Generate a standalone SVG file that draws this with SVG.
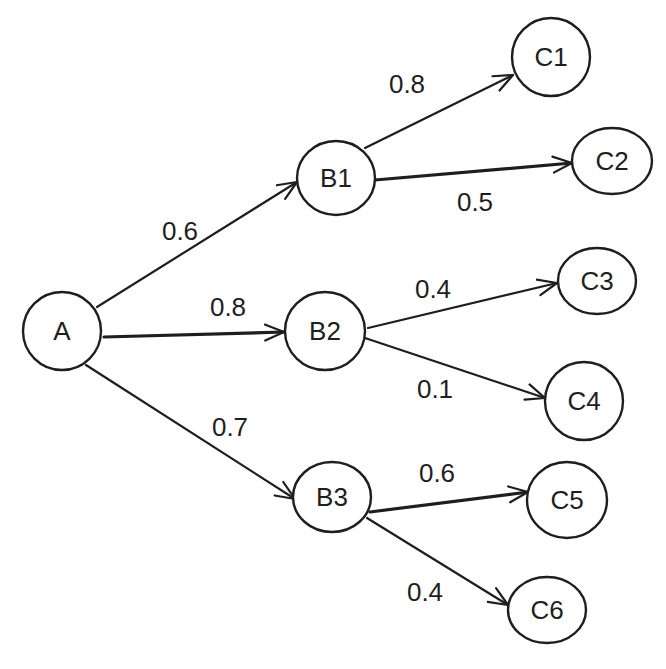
<svg xmlns="http://www.w3.org/2000/svg" width="666" height="669" viewBox="0 0 666 669">
<style>
.node ellipse{fill:#fff;stroke:#1e1e1e;stroke-width:2.4}
.node text{font-family:"Liberation Sans","DejaVu Sans",sans-serif;font-size:26px;fill:#1e1e1e;text-anchor:middle;dominant-baseline:central}
.edge{fill:none;stroke:#1e1e1e;stroke-width:2.2;stroke-linecap:round;marker-end:url(#arr)}
.thick{stroke-width:3.2}
.lbl{font-family:"Liberation Sans","DejaVu Sans",sans-serif;font-size:26px;fill:#1e1e1e;text-anchor:middle;dominant-baseline:central}
</style>
<defs>
<marker id="arr" viewBox="-20 -10 22 20" refX="0" refY="0" markerWidth="22" markerHeight="20" markerUnits="userSpaceOnUse" orient="auto">
<path d="M-19 -8 L0 0 L-19 8" fill="none" stroke="#1e1e1e" stroke-width="2.2" stroke-linecap="round" stroke-linejoin="round"/>
</marker>
</defs>
<rect width="666" height="669" fill="#fff"/>
<g id="connectors">
<path class="edge" d="M97 307 L297 182"/>
<path class="edge thick" d="M104 337 L284 332"/>
<path class="edge" d="M86 365 L295 499"/>
<path class="edge" d="M365 148 L513 75"/>
<path class="edge thick" d="M375 180 L572 163"/>
<path class="edge" d="M368 328 L557 283"/>
<path class="edge" d="M365 338 L545 398"/>
<path class="edge thick" d="M370 512 L528 492"/>
<path class="edge" d="M367 518 L508 605"/>
<text class="lbl" x="180" y="231">0.6</text>
<text class="lbl" x="228" y="307">0.8</text>
<text class="lbl" x="230" y="427">0.7</text>
<text class="lbl" x="407" y="84">0.8</text>
<text class="lbl" x="475" y="202">0.5</text>
<text class="lbl" x="433" y="289">0.4</text>
<text class="lbl" x="435" y="389">0.1</text>
<text class="lbl" x="437" y="473">0.6</text>
<text class="lbl" x="425" y="592">0.4</text>
</g>
<g id="A" class="node"><ellipse cx="62" cy="331" rx="39" ry="39"/><text x="62" y="331">A</text></g>
<g id="B1" class="node"><ellipse cx="336" cy="178" rx="39" ry="37"/><text x="336" y="178">B1</text></g>
<g id="B2" class="node"><ellipse cx="325" cy="331" rx="40" ry="39"/><text x="325" y="331">B2</text></g>
<g id="B3" class="node"><ellipse cx="332" cy="497" rx="39" ry="35"/><text x="332" y="497">B3</text></g>
<g id="C1" class="node"><ellipse cx="551" cy="57" rx="39" ry="39"/><text x="551" y="57">C1</text></g>
<g id="C2" class="node"><ellipse cx="612" cy="161" rx="40" ry="33"/><text x="612" y="161">C2</text></g>
<g id="C3" class="node"><ellipse cx="597" cy="281" rx="39" ry="33"/><text x="597" y="281">C3</text></g>
<g id="C4" class="node"><ellipse cx="584" cy="401" rx="39" ry="39"/><text x="584" y="401">C4</text></g>
<g id="C5" class="node"><ellipse cx="567" cy="500" rx="40" ry="38"/><text x="567" y="500">C5</text></g>
<g id="C6" class="node"><ellipse cx="547" cy="610" rx="39" ry="33"/><text x="547" y="610">C6</text></g>
</svg>
